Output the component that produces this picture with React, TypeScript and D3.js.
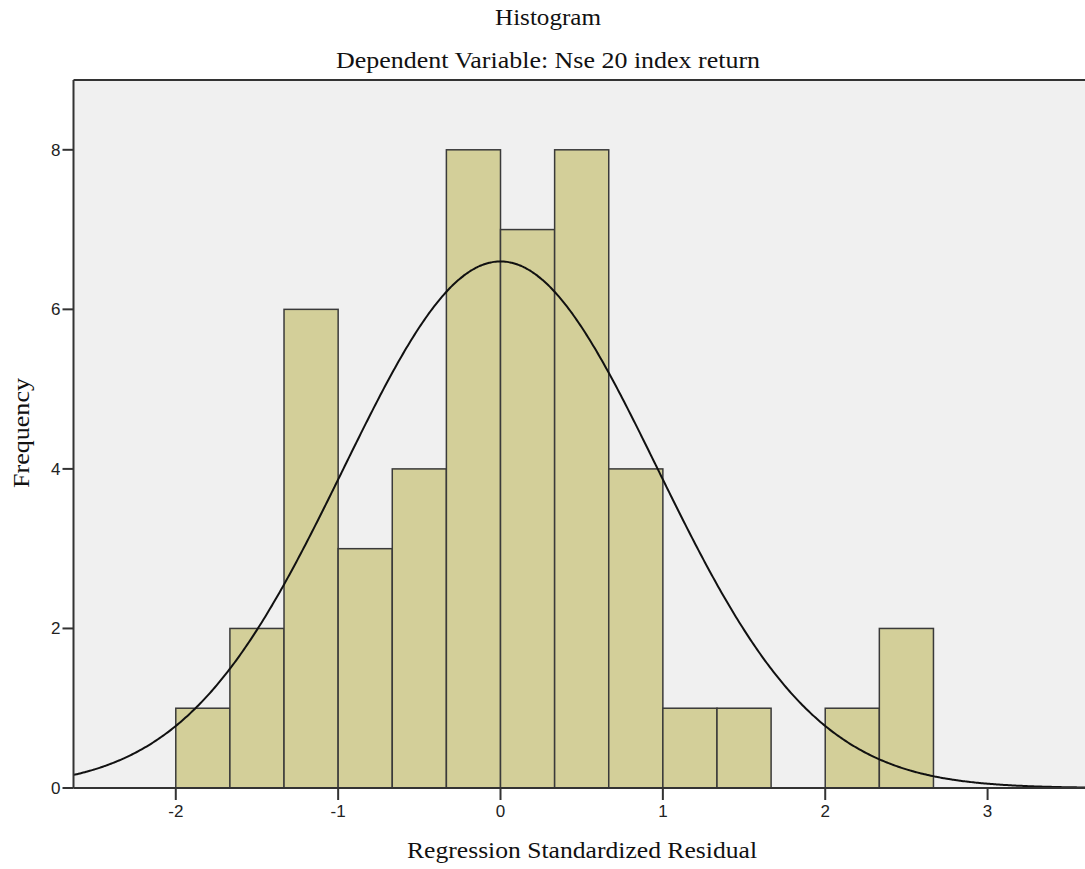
import React from "react";
import * as d3 from "d3";

// histogram bins (lower edge, upper edge) and counts
const binLower = [-2, -5 / 3, -4 / 3, -1, -2 / 3, -1 / 3, 0, 1 / 3, 2 / 3, 1, 4 / 3, 5 / 3, 2, 7 / 3];
const binWidth = 1 / 3;
const counts = [1, 2, 6, 3, 4, 8, 7, 8, 4, 1, 1, 0, 1, 2];

const xTicks = [-2, -1, 0, 1, 2, 3];
const yTicks = [0, 2, 4, 6, 8];

// normal curve parameters (SPSS overlay)
const mean = 0;
const stdDev = 0.967;
const n = 48;

const width = 1085;
const height = 869;
const left = 73.5;
const top = 80;
const bottom = 788;

export default function App() {
  const x = d3.scaleLinear().domain([-2.63, 3.6]).range([left, width]);
  const y = d3.scaleLinear().domain([0, 8.875]).range([bottom, top]);

  const pdf = (v: number) =>
    (n * binWidth * Math.exp(-0.5 * ((v - mean) / stdDev) ** 2)) /
    (stdDev * Math.sqrt(2 * Math.PI));

  const curvePts = d3.range(-2.63, 3.61, 0.01).map(v => [v, pdf(v)] as [number, number]);
  const line = d3
    .line<[number, number]>()
    .x(d => x(d[0]))
    .y(d => y(d[1]))
    .curve(d3.curveBasis);

  const serif = "'Liberation Serif', 'Times New Roman', serif";
  const sans = "'Liberation Sans', Arial, sans-serif";

  return (
    <svg
      width={width}
      height={height}
      style={{ position: "absolute", left: 0, top: 0, background: "#fff" }}
    >
      <rect x={left} y={top} width={width - left + 10} height={bottom - top} fill="#f0f0f0" />

      {counts.map((c, i) =>
        c > 0 ? (
          <rect
            key={i}
            x={x(binLower[i])}
            y={y(c)}
            width={x(binLower[i] + binWidth) - x(binLower[i])}
            height={y(0) - y(c)}
            fill="#d3cf99"
            stroke="#3a3a3a"
            strokeWidth={1.5}
          />
        ) : null
      )}

      <path d={line(curvePts) || ""} fill="none" stroke="#111" strokeWidth={2} />

      {/* frame */}
      <line x1={left} x2={width} y1={top} y2={top} stroke="#333" strokeWidth={2} />
      <line x1={left} x2={left} y1={top} y2={bottom} stroke="#333" strokeWidth={2} />
      <line x1={left} x2={width} y1={bottom} y2={bottom} stroke="#333" strokeWidth={2} />

      {yTicks.map(t => (
        <g key={t}>
          <line x1={left - 11} x2={left} y1={y(t)} y2={y(t)} stroke="#333" strokeWidth={2} />
          <text
            x={left - 13}
            y={y(t) + 6}
            textAnchor="end"
            fontFamily={sans}
            fontSize={17}
            fill="#222"
          >
            {t}
          </text>
        </g>
      ))}

      {xTicks.map(t => (
        <g key={t}>
          <line x1={x(t)} x2={x(t)} y1={bottom} y2={bottom + 12} stroke="#333" strokeWidth={2} />
          <text
            x={x(t)}
            y={bottom + 29}
            textAnchor="middle"
            fontFamily={sans}
            fontSize={17}
            fill="#222"
          >
            {t}
          </text>
        </g>
      ))}

      <text
        x={548}
        y={25}
        textAnchor="middle"
        fontFamily={serif}
        fontSize={23}
        fill="#111"
        textLength={106}
        lengthAdjust="spacingAndGlyphs"
      >
        Histogram
      </text>
      <text
        x={548}
        y={68}
        textAnchor="middle"
        fontFamily={serif}
        fontSize={23}
        fill="#111"
        textLength={424}
        lengthAdjust="spacingAndGlyphs"
      >
        Dependent Variable: Nse 20 index return
      </text>
      <text
        x={582}
        y={858}
        textAnchor="middle"
        fontFamily={serif}
        fontSize={23}
        fill="#111"
        textLength={350}
        lengthAdjust="spacingAndGlyphs"
      >
        Regression Standardized Residual
      </text>
      <text
        transform={`translate(29, 433) rotate(-90)`}
        textAnchor="middle"
        fontFamily={serif}
        fontSize={23}
        fill="#111"
        textLength={110}
        lengthAdjust="spacingAndGlyphs"
      >
        Frequency
      </text>
    </svg>
  );
}
